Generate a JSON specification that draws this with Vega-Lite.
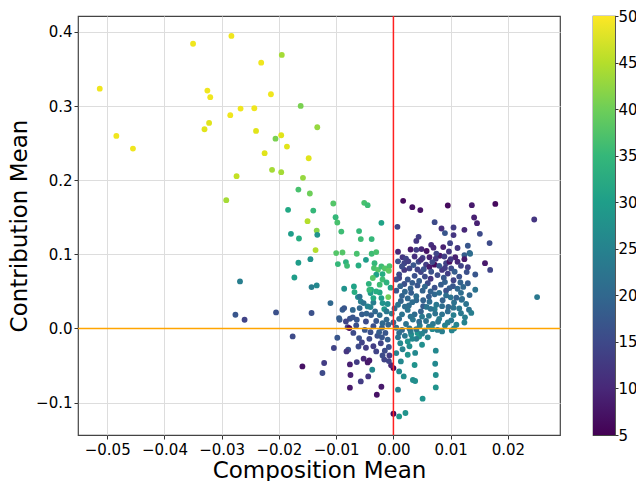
{
"$schema": "https://vega.github.io/schema/vega-lite/v6.json",
"padding": {"left": 7, "top": 8, "right": 0, "bottom": 0},
"background": "white",
"spacing": 30,
"config": {
  "font": "DejaVu Sans",
  "view": {"stroke": "#444", "strokeWidth": 1.2},
  "axis": {"labelFont": "DejaVu Sans", "titleFont": "DejaVu Sans", "labelFontSize": 15, "titleFontSize": 23, "titleFontWeight": "normal", "labelColor": "#000", "titleColor": "#000", "gridColor": "#dddddd", "gridWidth": 1, "tickColor": "#333", "tickSize": 4, "domain": false, "labelFlush": false}
},
"datasets": {"pts": [
{"x":-0.0513,"y":0.3234,"c":49},{"x":-0.0484,"y":0.2597,"c":49},{"x":-0.0455,"y":0.2426,"c":49},{"x":-0.0350,"y":0.384,"c":49},{"x":-0.0283,"y":0.3945,"c":49},
{"x":-0.0325,"y":0.3208,"c":49},{"x":-0.0320,"y":0.3119,"c":49},{"x":-0.0330,"y":0.2687,"c":48},{"x":-0.0322,"y":0.2772,"c":48},{"x":-0.0285,"y":0.2876,"c":49},
{"x":-0.0267,"y":0.2965,"c":49},{"x":-0.0243,"y":0.2970,"c":49},{"x":-0.0231,"y":0.3585,"c":49},{"x":-0.0214,"y":0.3159,"c":49},{"x":-0.0240,"y":0.2664,"c":48},
{"x":-0.0225,"y":0.2364,"c":48},{"x":-0.0196,"y":0.2606,"c":48},{"x":-0.0186,"y":0.2453,"c":48},{"x":-0.0206,"y":0.256,"c":41},{"x":-0.0195,"y":0.3689,"c":44},
{"x":-0.0162,"y":0.3001,"c":41},{"x":-0.0133,"y":0.2714,"c":43},{"x":-0.0148,"y":0.2296,"c":48},{"x":-0.0212,"y":0.2139,"c":44},{"x":-0.0196,"y":0.2108,"c":44},
{"x":-0.0274,"y":0.2054,"c":46},{"x":-0.0292,"y":0.1730,"c":44},{"x":-0.0158,"y":0.2031,"c":43},{"x":-0.0166,"y":0.1873,"c":37},{"x":-0.0146,"y":0.182,"c":40},
{"x":-0.0184,"y":0.160,"c":32},{"x":-0.0140,"y":0.159,"c":35},{"x":-0.0150,"y":0.1447,"c":45},{"x":-0.0134,"y":0.132,"c":42},{"x":-0.0179,"y":0.1276,"c":30},
{"x":-0.0165,"y":0.1213,"c":33},{"x":-0.0133,"y":0.1263,"c":28},{"x":-0.0105,"y":0.1685,"c":38},{"x":-0.0051,"y":0.1694,"c":37},{"x":-0.0045,"y":0.1663,"c":36},
{"x":-0.0101,"y":0.150,"c":35},{"x":-0.0098,"y":0.1429,"c":37},{"x":-0.0091,"y":0.1307,"c":36},{"x":-0.0060,"y":0.1313,"c":35},{"x":-0.0021,"y":0.1425,"c":31},
{"x":-0.0057,"y":0.1205,"c":36},{"x":-0.0038,"y":0.1205,"c":35},{"x":-0.0268,"y":0.0634,"c":24},{"x":-0.0276,"y":0.0185,"c":17},{"x":-0.0260,"y":0.0117,"c":14},
{"x":-0.0205,"y":0.0216,"c":16},{"x":-0.0176,"y":-0.0108,"c":15},{"x":-0.0159,"y":-0.0512,"c":7},{"x":-0.0173,"y":0.0687,"c":30},{"x":-0.0166,"y":0.0886,"c":30},
{"x":-0.0145,"y":0.0935,"c":28},{"x":-0.0136,"y":0.1057,"c":45},{"x":-0.0143,"y":0.0558,"c":24},{"x":-0.0134,"y":0.058,"c":26},{"x":-0.0143,"y":0.0208,"c":16},
{"x":-0.0110,"y":0.0342,"c":20},{"x":-0.0100,"y":0.1016,"c":38},{"x":-0.0089,"y":0.1024,"c":38},{"x":-0.0064,"y":0.1007,"c":37},{"x":-0.0038,"y":0.1007,"c":36},
{"x":-0.0030,"y":0.103,"c":37},{"x":-0.0097,"y":0.0868,"c":35},{"x":-0.0083,"y":0.0895,"c":34},{"x":-0.0081,"y":0.0845,"c":36},{"x":-0.0061,"y":0.0849,"c":33},
{"x":-0.0048,"y":0.0926,"c":30},{"x":-0.0033,"y":0.088,"c":35},{"x":-0.0034,"y":0.0814,"c":37},{"x":-0.0027,"y":0.0791,"c":38},{"x":-0.0021,"y":0.0836,"c":36},
{"x":-0.0015,"y":0.0809,"c":38},{"x":-0.0007,"y":0.0841,"c":37},{"x":-0.0008,"y":0.0778,"c":39},{"x":-0.0030,"y":0.0724,"c":31},{"x":-0.0019,"y":0.0733,"c":33},
{"x":-0.0086,"y":0.0535,"c":28},{"x":-0.0069,"y":0.0566,"c":31},{"x":-0.0043,"y":0.0602,"c":34},{"x":-0.0039,"y":0.0522,"c":33},{"x":-0.0040,"y":0.0477,"c":30},
{"x":-0.0024,"y":0.0485,"c":32},{"x":-0.0009,"y":0.0423,"c":40},{"x":-0.0062,"y":0.0423,"c":27},{"x":-0.0057,"y":0.0364,"c":24},{"x":-0.0052,"y":0.0342,"c":22},
{"x":-0.0040,"y":0.0288,"c":25},{"x":-0.0035,"y":0.035,"c":24},{"x":-0.0016,"y":0.0261,"c":29},{"x":-0.0019,"y":0.0342,"c":28},{"x":-0.0094,"y":0.0117,"c":17},
{"x":-0.0089,"y":0.0252,"c":18},{"x":-0.0076,"y":0.0131,"c":16},{"x":-0.0064,"y":0.0117,"c":17},{"x":-0.0080,"y":0.0019,"c":14},{"x":-0.0104,"y":-0.0264,"c":14},
{"x":-0.0098,"y":-0.0125,"c":17},{"x":-0.0079,"y":-0.0287,"c":16},{"x":-0.0061,"y":-0.0243,"c":15},{"x":-0.0121,"y":-0.0466,"c":13},{"x":-0.0124,"y":-0.0601,"c":15},
{"x":-0.0082,"y":-0.0310,"c":12},{"x":-0.0076,"y":-0.0485,"c":9},{"x":-0.0075,"y":-0.0628,"c":9},{"x":-0.0076,"y":-0.0799,"c":8},{"x":-0.0064,"y":-0.0453,"c":13},
{"x":-0.0052,"y":-0.0408,"c":10},{"x":-0.0045,"y":-0.0458,"c":8},{"x":-0.0042,"y":-0.0431,"c":8},{"x":-0.0057,"y":-0.0714,"c":13},{"x":-0.0044,"y":-0.0647,"c":12},
{"x":-0.0037,"y":-0.0557,"c":26},{"x":-0.0021,"y":-0.0786,"c":8},{"x":-0.0029,"y":-0.0894,"c":7},{"x":0.0000,"y":-0.0534,"c":6},{"x":0.0005,"y":-0.0332,"c":25},
{"x":0.0013,"y":-0.0445,"c":26},{"x":0.0018,"y":-0.0647,"c":27},{"x":0.0034,"y":-0.0695,"c":27},{"x":0.0038,"y":-0.0709,"c":27},{"x":0.0037,"y":-0.0493,"c":28},
{"x":0.0038,"y":-0.033,"c":26},{"x":0.0074,"y":-0.030,"c":26},{"x":0.0073,"y":-0.0476,"c":26},{"x":0.0074,"y":-0.0628,"c":27},{"x":0.0074,"y":-0.0795,"c":28},
{"x":0.0051,"y":-0.0947,"c":28},{"x":0.0021,"y":-0.114,"c":28},{"x":0.0010,"y":-0.1186,"c":29},{"x":0.0000,"y":-0.115,"c":6},{"x":0.0010,"y":-0.058,"c":26},
{"x":0.0008,"y":-0.0826,"c":25},{"x":-0.0004,"y":-0.0495,"c":10},{"x":-0.0008,"y":-0.044,"c":14},{"x":0.0106,"y":0.000,"c":26},{"x":0.0102,"y":-0.0027,"c":25},
{"x":0.0077,"y":-0.002,"c":24},{"x":0.0042,"y":-0.006,"c":28},{"x":0.0045,"y":-0.011,"c":29},{"x":0.0031,"y":-0.008,"c":27},{"x":0.0025,"y":-0.0175,"c":28},
{"x":0.0028,"y":-0.024,"c":27},{"x":0.0025,"y":-0.0355,"c":28},{"x":-0.0016,"y":-0.042,"c":14},{"x":-0.0007,"y":-0.0365,"c":13},{"x":-0.0019,"y":-0.0365,"c":15},
{"x":0.0017,"y":0.1721,"c":6},{"x":0.0033,"y":0.1636,"c":7},{"x":0.0047,"y":0.1596,"c":7},{"x":0.0095,"y":0.1658,"c":6},{"x":0.0137,"y":0.1663,"c":8},
{"x":0.0178,"y":0.168,"c":6},{"x":0.0141,"y":0.1496,"c":9},{"x":0.0146,"y":0.142,"c":9},{"x":0.0246,"y":0.1469,"c":12},{"x":0.0007,"y":0.137,"c":14},
{"x":0.0072,"y":0.1434,"c":15},{"x":0.0084,"y":0.1348,"c":11},{"x":0.0090,"y":0.1286,"c":17},{"x":0.0105,"y":0.1361,"c":13},{"x":0.0124,"y":0.133,"c":10},
{"x":0.0151,"y":0.1276,"c":15},{"x":0.0105,"y":0.1259,"c":12},{"x":0.0044,"y":0.1236,"c":13},{"x":0.0040,"y":0.118,"c":12},{"x":0.0066,"y":0.1128,"c":11},
{"x":0.0087,"y":0.1097,"c":9},{"x":0.0099,"y":0.115,"c":14},{"x":0.0049,"y":0.107,"c":10},{"x":0.0040,"y":0.106,"c":13},{"x":0.0097,"y":0.1038,"c":12},
{"x":0.0081,"y":0.098,"c":8},{"x":0.0089,"y":0.097,"c":13},{"x":0.0016,"y":0.096,"c":12},{"x":0.0022,"y":0.094,"c":14},{"x":0.0037,"y":0.097,"c":11},
{"x":0.0051,"y":0.095,"c":13},{"x":0.0063,"y":0.096,"c":9},{"x":0.0074,"y":0.094,"c":12},{"x":0.0124,"y":0.099,"c":18},{"x":0.0133,"y":0.102,"c":19},
{"x":0.0168,"y":0.1151,"c":15},{"x":0.0130,"y":0.1115,"c":17},{"x":0.0134,"y":0.1007,"c":21},{"x":0.0124,"y":0.0935,"c":8},{"x":0.0160,"y":0.0881,"c":8},
{"x":0.0130,"y":0.0827,"c":13},{"x":0.0169,"y":0.079,"c":14},{"x":0.0143,"y":0.0728,"c":17},{"x":0.0143,"y":0.0522,"c":22},{"x":0.0132,"y":0.0252,"c":22},
{"x":0.0119,"y":0.0387,"c":22},{"x":0.0251,"y":0.0423,"c":23},
{"x":0.0019,"y":0.088,"c":14},{"x":0.0028,"y":0.081,"c":14},{"x":0.0057,"y":0.086,"c":13},{"x":0.0072,"y":0.086,"c":6},{"x":0.0063,"y":0.083,"c":8},
{"x":0.0092,"y":0.088,"c":14},{"x":0.0101,"y":0.081,"c":15},{"x":0.0112,"y":0.090,"c":10},{"x":0.0044,"y":0.090,"c":15},{"x":0.0085,"y":0.079,"c":12},
{"x":0.0010,"y":0.073,"c":15},{"x":0.0037,"y":0.071,"c":16},{"x":0.0048,"y":0.076,"c":14},{"x":0.0077,"y":0.072,"c":15},{"x":0.0095,"y":0.074,"c":13},
{"x":0.0115,"y":0.070,"c":16},{"x":0.0025,"y":0.066,"c":17},{"x":0.0065,"y":0.067,"c":12},{"x":0.0105,"y":0.065,"c":14},{"x":0.0128,"y":0.076,"c":16},
{"x":0.0019,"y":0.060,"c":16},{"x":0.0042,"y":0.058,"c":17},{"x":0.0060,"y":0.061,"c":15},{"x":0.0083,"y":0.059,"c":18},{"x":0.0104,"y":0.057,"c":17},
{"x":0.0130,"y":0.061,"c":18},{"x":0.0030,"y":0.054,"c":19},{"x":0.0072,"y":0.055,"c":16},{"x":0.0117,"y":0.062,"c":19},
{"x":0.0005,"y":0.051,"c":17},{"x":0.0031,"y":0.048,"c":18},{"x":0.0051,"y":0.051,"c":19},{"x":0.0072,"y":0.046,"c":20},{"x":0.0092,"y":0.051,"c":16},
{"x":0.0118,"y":0.048,"c":21},{"x":0.0133,"y":0.045,"c":20},{"x":0.0015,"y":0.044,"c":19},{"x":0.0062,"y":0.043,"c":18},{"x":0.0100,"y":0.042,"c":22},
{"x":0.0013,"y":0.037,"c":19},{"x":0.0040,"y":0.038,"c":20},{"x":0.0063,"y":0.036,"c":21},{"x":0.0086,"y":0.038,"c":19},{"x":0.0106,"y":0.035,"c":22},
{"x":0.0127,"y":0.033,"c":22},{"x":0.0027,"y":0.031,"c":21},{"x":0.0052,"y":0.030,"c":18},{"x":0.0075,"y":0.032,"c":23},{"x":0.0096,"y":0.029,"c":20},
{"x":0.0002,"y":0.027,"c":20},{"x":0.0025,"y":0.025,"c":22},{"x":0.0048,"y":0.023,"c":19},{"x":0.0072,"y":0.026,"c":24},{"x":0.0095,"y":0.023,"c":21},
{"x":0.0115,"y":0.027,"c":23},{"x":0.0136,"y":0.021,"c":24},{"x":0.0037,"y":0.019,"c":21},{"x":0.0062,"y":0.017,"c":23},{"x":0.0085,"y":0.019,"c":22},
{"x":0.0010,"y":0.013,"c":21},{"x":0.0034,"y":0.012,"c":23},{"x":0.0057,"y":0.010,"c":22},{"x":0.0080,"y":0.013,"c":24},{"x":0.0101,"y":0.011,"c":23},
{"x":0.0124,"y":0.008,"c":25},{"x":0.0022,"y":0.006,"c":22},{"x":0.0046,"y":0.004,"c":24},{"x":0.0069,"y":0.006,"c":23},{"x":0.0090,"y":0.004,"c":25},
{"x":0.0005,"y":0.001,"c":21},{"x":0.0015,"y":-0.002,"c":20},{"x":0.0030,"y":-0.004,"c":24},{"x":0.0055,"y":-0.003,"c":23},{"x":0.0068,"y":-0.001,"c":26},
{"x":0.0020,"y":-0.010,"c":23},{"x":0.0040,"y":-0.014,"c":24},{"x":0.0060,"y":-0.012,"c":25},{"x":0.0012,"y":-0.020,"c":26},{"x":0.0050,"y":-0.022,"c":27},
{"x":0.0016,"y":-0.028,"c":25},
{"x":-0.0009,"y":0.005,"c":19},{"x":-0.0020,"y":0.001,"c":18},{"x":-0.0035,"y":0.003,"c":16},{"x":-0.0050,"y":-0.002,"c":17},{"x":-0.0014,"y":-0.006,"c":17},
{"x":-0.0028,"y":-0.010,"c":16},{"x":-0.0042,"y":-0.014,"c":15},{"x":-0.0010,"y":-0.015,"c":18},{"x":-0.0060,"y":-0.013,"c":16},{"x":-0.0022,"y":-0.020,"c":14},
{"x":-0.0035,"y":-0.024,"c":13},{"x":-0.0008,"y":-0.025,"c":16},{"x":-0.0048,"y":-0.026,"c":13},{"x":-0.0015,"y":-0.030,"c":15},{"x":-0.0077,"y":0.0005,"c":6},
{"x":-0.0083,"y":0.0094,"c":14},{"x":-0.0071,"y":0.015,"c":17},{"x":-0.0055,"y":0.019,"c":18},{"x":-0.0039,"y":0.018,"c":18},{"x":-0.0024,"y":0.018,"c":21},
{"x":-0.0048,"y":0.0094,"c":15},{"x":-0.0019,"y":0.007,"c":20},{"x":-0.0095,"y":0.014,"c":18},{"x":-0.0086,"y":0.0275,"c":17},{"x":-0.0071,"y":0.025,"c":20},
{"x":-0.0059,"y":0.043,"c":22},{"x":-0.0059,"y":0.0275,"c":20},{"x":-0.0045,"y":0.0297,"c":25},{"x":-0.0042,"y":0.052,"c":35},{"x":-0.0030,"y":0.050,"c":33},
{"x":-0.0024,"y":0.059,"c":36},{"x":-0.0035,"y":0.041,"c":32},{"x":-0.0021,"y":0.041,"c":30},{"x":-0.0036,"y":0.068,"c":38},{"x":-0.0019,"y":0.066,"c":36},
{"x":-0.0012,"y":0.062,"c":34},{"x":-0.0005,"y":0.055,"c":31},{"x":-0.0010,"y":0.033,"c":27},{"x":-0.0003,"y":0.020,"c":24},{"x":-0.0068,"y":0.049,"c":33},
{"x":0.0019,"y":0.079,"c":12},{"x":0.0010,"y":0.068,"c":14},{"x":0.0008,"y":0.1035,"c":10},{"x":0.0030,"y":0.1065,"c":8},{"x":0.0058,"y":0.1045,"c":7},
{"x":0.0070,"y":0.109,"c":10},{"x":0.0112,"y":0.1085,"c":12},{"x":0.0108,"y":0.096,"c":9},{"x":0.0098,"y":0.090,"c":7},{"x":0.0075,"y":0.101,"c":14},
{"x":0.0008,"y":0.0905,"c":16},{"x":0.0035,"y":0.0855,"c":17},{"x":0.0053,"y":0.0800,"c":16},{"x":0.0080,"y":0.0845,"c":17},{"x":0.0107,"y":0.0765,"c":18},
{"x":0.0012,"y":0.0570,"c":19},{"x":0.0045,"y":0.0640,"c":18},{"x":0.0090,"y":0.0625,"c":19},{"x":0.0112,"y":0.0535,"c":20},{"x":0.0055,"y":0.0565,"c":20},
{"x":0.0020,"y":0.0495,"c":20},{"x":0.0080,"y":0.0480,"c":21},{"x":0.0040,"y":0.0435,"c":21},{"x":0.0110,"y":0.0415,"c":19},{"x":0.0122,"y":0.0560,"c":20},
{"x":0.0008,"y":0.0320,"c":22},{"x":0.0033,"y":0.0355,"c":21},{"x":0.0058,"y":0.0290,"c":22},{"x":0.0085,"y":0.0300,"c":21},{"x":0.0118,"y":0.0205,"c":23},
{"x":0.0015,"y":0.0190,"c":22},{"x":0.0050,"y":0.0160,"c":23},{"x":0.0073,"y":0.0200,"c":22},{"x":0.0105,"y":0.0180,"c":24},{"x":0.0028,"y":0.0000,"c":22},
{"x":0.0045,"y":0.0090,"c":21},{"x":0.0095,"y":0.0080,"c":24},{"x":0.0062,"y":0.0025,"c":24},{"x":0.0040,"y":-0.0010,"c":22},{"x":0.0000,"y":0.0080,"c":20},
{"x":0.0026,"y":0.0905,"c":13},{"x":0.0048,"y":0.0925,"c":11},{"x":0.0068,"y":0.0895,"c":15},{"x":0.0100,"y":0.0935,"c":12},
{"x":0.0015,"y":0.0835,"c":15},{"x":0.0042,"y":0.0795,"c":14},{"x":0.0066,"y":0.0765,"c":16},{"x":0.0090,"y":0.0815,"c":13},{"x":0.0118,"y":0.0845,"c":14},
{"x":0.0005,"y":0.0660,"c":16},{"x":0.0033,"y":0.0615,"c":18},{"x":0.0055,"y":0.0700,"c":15},{"x":0.0088,"y":0.0685,"c":17},{"x":0.0098,"y":0.0545,"c":18},
{"x":0.0065,"y":0.0500,"c":19},{"x":0.0025,"y":0.0405,"c":20},{"x":0.0052,"y":0.0380,"c":19},{"x":0.0092,"y":0.0445,"c":21},{"x":0.0120,"y":0.0400,"c":21},
{"x":0.0020,"y":0.0295,"c":21},{"x":0.0065,"y":0.0265,"c":22},{"x":0.0105,"y":0.0280,"c":22},{"x":0.0125,"y":0.0150,"c":24},{"x":0.0030,"y":0.0160,"c":22},
{"x":0.0078,"y":0.0090,"c":23},{"x":0.0110,"y":0.0050,"c":25},{"x":0.0010,"y":-0.0060,"c":21},{"x":0.0050,"y":-0.0070,"c":25},{"x":0.0085,"y":-0.0040,"c":24},
{"x":0.0033,"y":-0.0140,"c":26},{"x":0.0008,"y":-0.0120,"c":22},
{"x":-0.0012,"y":0.0120,"c":20},{"x":-0.0030,"y":0.0100,"c":17},{"x":-0.0065,"y":0.0040,"c":16},{"x":-0.0040,"y":-0.0050,"c":16},{"x":-0.0020,"y":-0.0120,"c":17},
{"x":-0.0055,"y":-0.0190,"c":14},{"x":-0.0030,"y":-0.0310,"c":14},{"x":-0.0070,"y":-0.0060,"c":15},{"x":-0.0012,"y":0.0230,"c":23},{"x":-0.0032,"y":0.0230,"c":20},
{"x":-0.0047,"y":0.0200,"c":19},{"x":-0.0025,"y":-0.0050,"c":18}
],
"zero": [{"v": 0}],
"bar": [{"lo": 5, "hi": 50}]},
"hconcat": [
  {"width": 482, "height": 419,
   "layer": [
    {"data": {"name": "pts"},
     "mark": {"type": "circle", "size": 34, "opacity": 1},
     "encoding": {
       "x": {"field": "x", "type": "quantitative", "scale": {"domain": [-0.0551, 0.0291], "nice": false, "zero": false},
             "axis": {"values": [-0.05, -0.04, -0.03, -0.02, -0.01, 0, 0.01, 0.02], "format": ".2f", "title": "Composition Mean", "labelPadding": 3, "titlePadding": 2}},
       "y": {"field": "y", "type": "quantitative", "scale": {"domain": [-0.1437, 0.4214], "nice": false, "zero": false},
             "axis": {"values": [-0.1, 0, 0.1, 0.2, 0.3, 0.4], "format": ".1f", "title": "Contribution Mean", "labelPadding": 2, "titlePadding": 4}},
       "color": {"field": "c", "type": "quantitative", "scale": {"scheme": "viridis", "domain": [5, 50]}, "legend": null}
     }},
    {"data": {"name": "zero"}, "mark": {"type": "rule", "color": "#ff2020", "strokeWidth": 1.5}, "encoding": {"x": {"field": "v", "type": "quantitative"}}},
    {"data": {"name": "zero"}, "mark": {"type": "rule", "color": "orange", "strokeWidth": 1.5}, "encoding": {"y": {"field": "v", "type": "quantitative"}}}
   ]},
  {"width": 22, "height": 419,
   "data": {"name": "bar"},
   "mark": {"type": "rect", "color": {"gradient": "linear", "x1": 0, "y1": 1, "x2": 0, "y2": 0,
            "stops": [{"offset": 0, "color": "#440154"}, {"offset": 0.111, "color": "#482878"}, {"offset": 0.222, "color": "#3e4989"}, {"offset": 0.333, "color": "#31688e"}, {"offset": 0.444, "color": "#26828e"}, {"offset": 0.556, "color": "#1f9e89"}, {"offset": 0.667, "color": "#35b779"}, {"offset": 0.778, "color": "#6ece58"}, {"offset": 0.889, "color": "#b5de2b"}, {"offset": 1, "color": "#fde725"}]}},
   "encoding": {
     "y": {"field": "lo", "type": "quantitative", "scale": {"domain": [5, 50], "nice": false, "zero": false},
           "axis": {"orient": "right", "values": [5, 10, 15, 20, 25, 30, 35, 40, 45, 50], "title": null, "grid": false, "tickSize": 3, "labelPadding": 0, "labelBaseline": "middle"}},
     "y2": {"field": "hi"}
   }}
]
}
